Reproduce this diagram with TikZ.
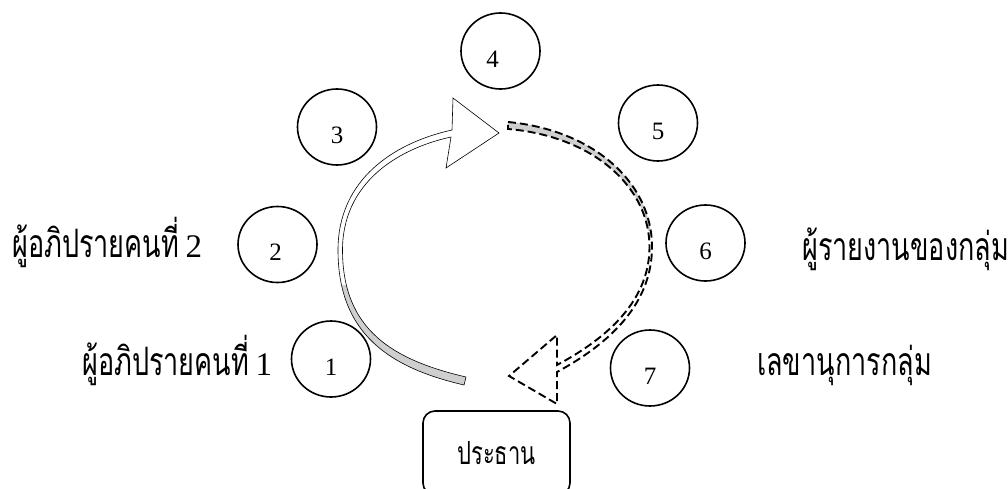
\documentclass[tikz,border=0pt]{standalone}
\usepackage{fontspec}
\usepackage{graphicx}
\setmainfont{Liberation Serif}
\newfontfamily\thaifont[Script=Thai]{Loma}
\usetikzlibrary{shapes.geometric}
\definecolor{ribbongray}{HTML}{CFCFCF}
\newcommand\tallthai[1]{\scalebox{1}[1.45]{\thaifont #1}}
\begin{document}
\begin{tikzpicture}[x=1pt,y=-1pt,
  seat/.style={ellipse,draw,line width=1.6pt,minimum width=79pt,minimum height=76pt,inner sep=0pt},
  seatnum/.style={font=\fontsize{25}{28}\selectfont,yshift=-8pt},
  role/.style={anchor=base west,inner sep=0pt,font=\fontsize{27}{32}\selectfont},
  chair/.style={rounded corners=12pt,draw,line width=1.6pt,minimum width=147pt,minimum height=84pt,font=\fontsize{22}{26}\selectfont},
  ribbon/.style={draw=black,line width=0.6pt},
  dashribbon/.style={draw=black,line width=1.9pt,dash pattern=on 8pt off 4pt},
  ]
\useasboundingbox (0,0) rectangle (1008,489);

% seats
\node[seat,label={[seatnum,xshift=-8pt]center:4}] (s4) at (500.5,51) {};
\node[seat,label={[seatnum]center:3}] (s3) at (337,127) {};
\node[seat,label={[seatnum]center:5}] (s5) at (658,123) {};
\node[seat,label={[seatnum,xshift=-2pt]center:2}] (s2) at (277.5,244.5) {};
\node[seat,label={[seatnum]center:6}] (s6) at (705.5,243) {};
\node[seat,label={[seatnum]center:1}] (s1) at (331,359) {};
\node[seat,label={[seatnum]center:7}] (s7) at (650,368) {};

% role labels
\node[role] (r2) at (12,257) {\tallthai{ผู้อภิปรายคนที่} {\fontsize{33}{36}\selectfont 2}};
\node[role] (r1) at (82,375) {\tallthai{ผู้อภิปรายคนที่} {\fontsize{33}{36}\selectfont 1}};
\node[role] (r6) at (802,260) {\tallthai{ผู้รายงานของกลุ่ม}};
\node[role] (r7) at (757,375) {\tallthai{เลขานุการกลุ่ม}};

% chairman
\node[chair] (chair) at (496.5,453) {\raisebox{-3pt}{\tallthai{ประธาน}}};

% left curved arrow (solid outline)
\path[save path=\leftarr] (464,385) .. controls (391,368) and (338,335) .. (338,250)
  .. controls (338,180) and (393,143) .. (452,130) -- (453,98) -- (499,133) -- (446,168)
  -- (451,137) .. controls (396,149) and (342.5,184) .. (342.5,250)
  .. controls (342.5,330) and (393,360) .. (466,377) -- cycle;
\fill[white,use path=\leftarr];
\begin{scope}
  \clip (300,285) rectangle (480,400);
  \fill[ribbongray,use path=\leftarr];
\end{scope}
\path[ribbon,use path=\leftarr];

% right curved arrow (dashed outline)
\path[save path=\rightarr] (508,122) .. controls (593,130) and (652,182) .. (652,247)
  .. controls (652,307) and (605,346) .. (557,372) -- (557,404) -- (509,376) -- (557,335)
  -- (557,365) .. controls (600,342) and (649.5,305) .. (649.5,247)
  .. controls (649.5,186) and (592,136) .. (508,129) -- cycle;
\fill[white,use path=\rightarr];
\begin{scope}
  \clip (500,100) rectangle (680,230);
  \fill[ribbongray,use path=\rightarr];
\end{scope}
\path[dashribbon,use path=\rightarr];
\end{tikzpicture}
\end{document}
